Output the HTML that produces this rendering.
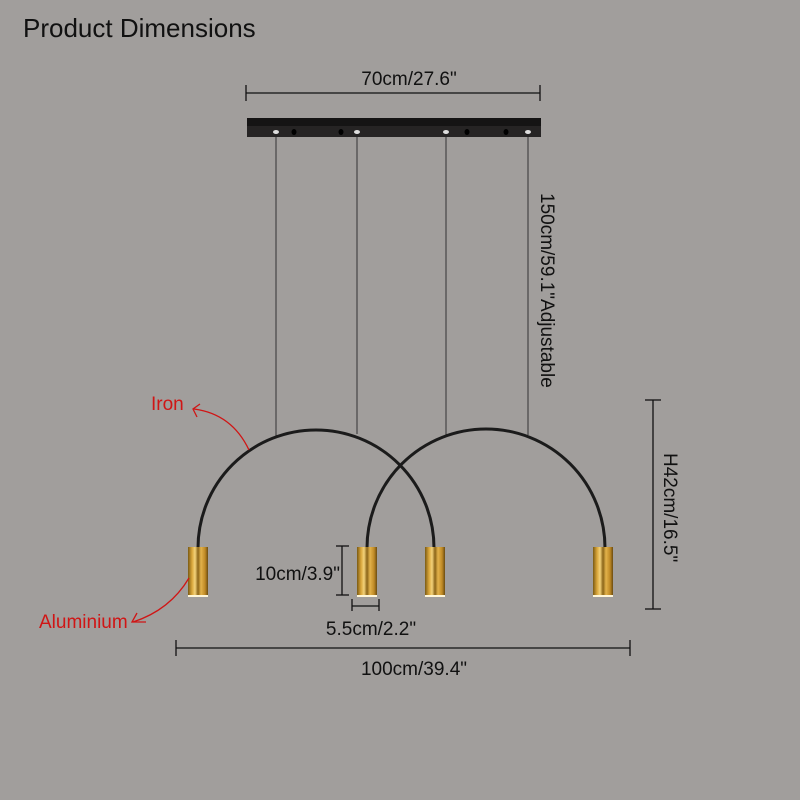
<!DOCTYPE html>
<html><head><style>
html,body{margin:0;padding:0;background:#a19e9c;}
svg{display:block}
text{font-family:"Liberation Sans",sans-serif;}
</style></head><body>
<svg width="800" height="800" viewBox="0 0 800 800" xmlns="http://www.w3.org/2000/svg">
<defs>
<linearGradient id="g" x1="0" x2="1" y1="0" y2="0">
<stop offset="0" stop-color="#7a5a14"/><stop offset="0.2" stop-color="#d9a63a"/>
<stop offset="0.35" stop-color="#f3d27a"/><stop offset="0.5" stop-color="#8a6418"/>
<stop offset="0.65" stop-color="#e2b24a"/><stop offset="0.85" stop-color="#c08a26"/>
<stop offset="1" stop-color="#6b4c10"/></linearGradient>
</defs>
<rect width="800" height="800" fill="#a19e9c"/>
<text x="23" y="37" font-size="26" fill="#111">Product Dimensions</text>
<text x="409" y="85" font-size="19" text-anchor="middle" fill="#111">70cm/27.6"</text>
<line x1="246" y1="93" x2="540" y2="93" stroke="#111" stroke-width="1.3"/>
<line x1="246" y1="85" x2="246" y2="101" stroke="#111" stroke-width="1.3"/>
<line x1="540" y1="85" x2="540" y2="101" stroke="#111" stroke-width="1.3"/>
<rect x="247" y="118" width="294" height="19" fill="#262424"/>
<rect x="247" y="118" width="294" height="8" fill="#151414"/>
<g fill="#ddd"><ellipse cx="276" cy="132" rx="3" ry="2"/><ellipse cx="357" cy="132" rx="3" ry="2"/><ellipse cx="446" cy="132" rx="3" ry="2"/><ellipse cx="528" cy="132" rx="3" ry="2"/></g>
<g fill="#000"><ellipse cx="294" cy="132" rx="2.5" ry="3"/><ellipse cx="341" cy="132" rx="2.5" ry="3"/><ellipse cx="467" cy="132" rx="2.5" ry="3"/><ellipse cx="506" cy="132" rx="2.5" ry="3"/></g>
<g stroke="#333" stroke-width="1"><line x1="276" y1="137" x2="276" y2="436"/><line x1="357" y1="137" x2="357" y2="434"/><line x1="446" y1="137" x2="446" y2="437"/><line x1="528" y1="137" x2="528" y2="435"/></g>
<path d="M198 548 A118 118 0 0 1 434 548" fill="none" stroke="#1b1b1b" stroke-width="3"/>
<path d="M367 548 A119 119 0 0 1 605 548" fill="none" stroke="#1b1b1b" stroke-width="3"/>
<g fill="url(#g)"><rect x="188" y="547" width="20" height="50"/><rect x="357" y="547" width="20" height="50"/><rect x="425" y="547" width="20" height="50"/><rect x="593" y="547" width="20" height="50"/></g>
<g fill="#fff6d8"><rect x="188" y="595" width="20" height="2"/><rect x="357" y="595" width="20" height="2"/><rect x="425" y="595" width="20" height="2"/><rect x="593" y="595" width="20" height="2"/></g>
<text transform="translate(541,193) rotate(90)" font-size="19" fill="#111">150cm/59.1"Adjustable</text>
<line x1="653" y1="400" x2="653" y2="609" stroke="#111" stroke-width="1.3"/>
<line x1="645" y1="400" x2="661" y2="400" stroke="#111" stroke-width="1.3"/>
<line x1="645" y1="609" x2="661" y2="609" stroke="#111" stroke-width="1.3"/>
<text transform="translate(664,453) rotate(90)" font-size="19" fill="#111">H42cm/16.5"</text>
<line x1="342" y1="546" x2="342" y2="595" stroke="#111" stroke-width="1.3"/>
<line x1="336" y1="546" x2="349" y2="546" stroke="#111" stroke-width="1.3"/>
<line x1="336" y1="595" x2="349" y2="595" stroke="#111" stroke-width="1.3"/>
<text x="340" y="580" font-size="19" fill="#111" text-anchor="end">10cm/3.9"</text>
<line x1="352" y1="606" x2="379" y2="606" stroke="#111" stroke-width="1.3"/>
<line x1="352" y1="599" x2="352" y2="611" stroke="#111" stroke-width="1.3"/>
<line x1="379" y1="599" x2="379" y2="611" stroke="#111" stroke-width="1.3"/>
<text x="371" y="635" font-size="19" fill="#111" text-anchor="middle">5.5cm/2.2"</text>
<line x1="176" y1="648" x2="630" y2="648" stroke="#111" stroke-width="1.3"/>
<line x1="176" y1="640" x2="176" y2="656" stroke="#111" stroke-width="1.3"/>
<line x1="630" y1="640" x2="630" y2="656" stroke="#111" stroke-width="1.3"/>
<text x="414" y="675" font-size="19" fill="#111" text-anchor="middle">100cm/39.4"</text>
<text x="151" y="410" font-size="19" fill="#d01515">Iron</text>
<path d="M249 450 Q232 414 194 409" fill="none" stroke="#d01515" stroke-width="1.3"/>
<path d="M200 404 L193 409 L197 417" fill="none" stroke="#d01515" stroke-width="1.3"/>
<text x="39" y="628" font-size="19" fill="#d01515">Aluminium</text>
<path d="M189 578 Q170 610 133 622" fill="none" stroke="#d01515" stroke-width="1.3"/>
<path d="M137 613 L132 622 L146 622" fill="none" stroke="#d01515" stroke-width="1.3"/>
</svg>
</body></html>
